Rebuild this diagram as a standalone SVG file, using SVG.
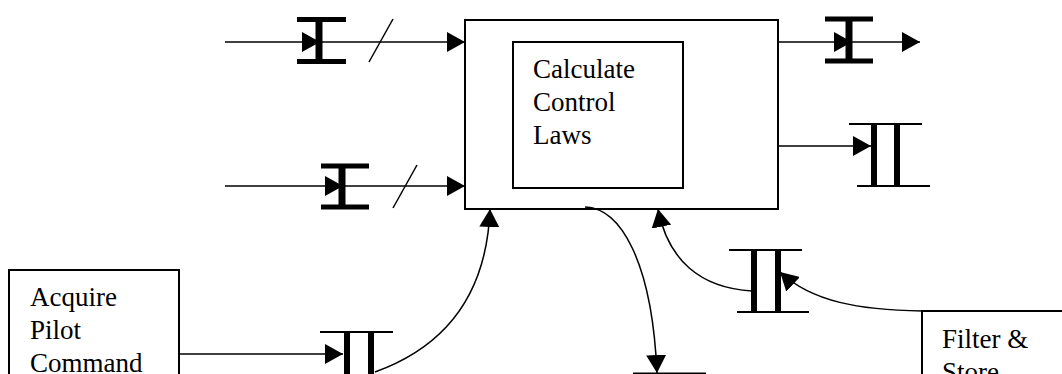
<svg xmlns="http://www.w3.org/2000/svg" width="1062" height="374" viewBox="0 0 1062 374">
<style>
.box{fill:#fff;stroke:#000;stroke-width:2}
.lbl{font-family:"Liberation Serif","Times New Roman",serif;font-size:27px;fill:#000}
.ln{fill:none;stroke:#000;stroke-width:1.5}
.ar{fill:none;stroke:#000;stroke-width:1.5;marker-end:url(#ah)}
.ibar{stroke:#000;stroke-width:5}
.ivert{stroke:#000;stroke-width:7}
.dline{stroke:#000;stroke-width:2}
.dbar{stroke:#000;stroke-width:6}
</style>
<defs>
<marker id="ah" markerUnits="userSpaceOnUse" markerWidth="18" markerHeight="20" viewBox="0 0 18 20" refX="18" refY="10" orient="auto">
<path d="M0,0 L18,10 L0,20 z" fill="#000"/>
</marker>
</defs>
<g id="calc-outer">
<rect class="box" x="465" y="20" width="313" height="189"/>
</g>
<g id="calc-inner">
<rect class="box" x="513" y="42" width="170" height="146"/>
<text class="lbl" x="533" y="78">Calculate</text>
<text class="lbl" x="533" y="111">Control</text>
<text class="lbl" x="533" y="144">Laws</text>
</g>
<g id="acquire">
<rect class="box" x="9" y="270" width="170" height="200"/>
<text class="lbl" x="30" y="306">Acquire</text>
<text class="lbl" x="30" y="339">Pilot</text>
<text class="lbl" x="30" y="372">Command</text>
</g>
<g id="filter">
<rect class="box" x="922" y="311" width="200" height="200"/>
<text class="lbl" x="942" y="348">Filter &amp;</text>
<text class="lbl" x="942" y="381">Store</text>
</g>
<g id="ibeam-in1">
<line class="ibar" x1="297" y1="19.5" x2="346" y2="19.5"/>
<line class="ibar" x1="297" y1="61.5" x2="346" y2="61.5"/>
<line class="ivert" x1="319" y1="19.5" x2="319" y2="61.5"/>
</g>
<g id="ibeam-in2">
<line class="ibar" x1="321" y1="166" x2="369" y2="166"/>
<line class="ibar" x1="321" y1="207" x2="369" y2="207"/>
<line class="ivert" x1="342" y1="166" x2="342" y2="207"/>
</g>
<g id="ibeam-out">
<line class="ibar" x1="825" y1="19" x2="873" y2="19"/>
<line class="ibar" x1="825" y1="61" x2="873" y2="61"/>
<line class="ivert" x1="849" y1="19" x2="849" y2="61"/>
</g>
<g id="store-right">
<line class="dline" x1="849" y1="124" x2="922" y2="124"/>
<line class="dline" x1="857" y1="186" x2="930" y2="186"/>
<line class="dbar" x1="874" y1="124" x2="874" y2="186"/>
<line class="dbar" x1="897" y1="124" x2="897" y2="186"/>
</g>
<g id="store-mid">
<line class="dline" x1="729" y1="250" x2="802" y2="250"/>
<line class="dline" x1="737" y1="312" x2="809" y2="312"/>
<line class="dbar" x1="754" y1="250" x2="754" y2="312"/>
<line class="dbar" x1="778" y1="250" x2="778" y2="312"/>
</g>
<g id="store-left">
<line class="dline" x1="320" y1="332" x2="393" y2="332"/>
<line class="dbar" x1="347" y1="332" x2="347" y2="380"/>
<line class="dbar" x1="371" y1="332" x2="371" y2="380"/>
</g>
<g id="store-bottom">
<line class="dline" x1="633" y1="373.5" x2="706" y2="373.5"/>
</g>
<g id="connectors">
<path class="ar" d="M225 42 L320 42"/>
<path class="ar" d="M320 42 L465 42"/>
<line class="ln" x1="369" y1="62" x2="393" y2="19" stroke-width="1.3"/>
<path class="ar" d="M225 186 L343 186"/>
<path class="ar" d="M343 186 L465 186"/>
<line class="ln" x1="393" y1="208" x2="417" y2="165" stroke-width="1.3"/>
<path class="ar" d="M778 42 L852 42"/>
<path class="ar" d="M852 42 L920 42"/>
<path class="ar" d="M778 146 L871 146"/>
<path class="ar" d="M179 354 L343 354"/>
<path class="ar" d="M375 372 C450 345, 487 290, 490 209"/>
<path class="ar" d="M585 207 C620 208, 652 260, 657 373"/>
<path class="ar" d="M752 291 C700 288, 668 260, 658 209"/>
<path class="ar" d="M922 311 C860 310, 812 302, 780 272"/>
</g>
</svg>
